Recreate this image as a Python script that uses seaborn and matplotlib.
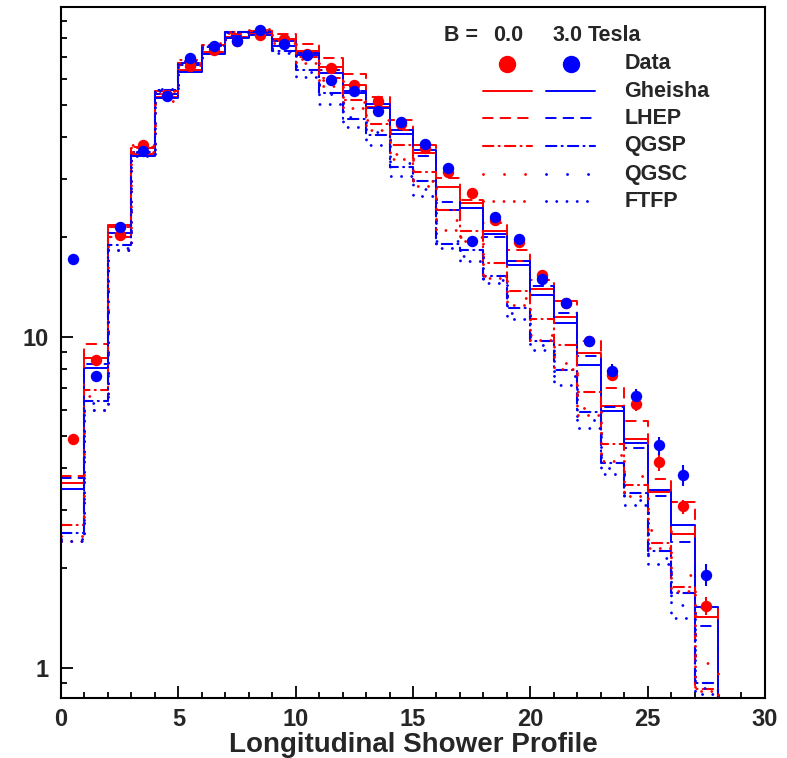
import numpy as np
import pandas as pd
import matplotlib
matplotlib.use('Agg')
import matplotlib.pyplot as plt
import matplotlib.ticker as mticker
import seaborn as sns

# bins of the shower profile (layers 0..30)
edges = np.arange(0, 31, 1)
centers = edges[:-1] + 0.5

# data, B = 0.0 T and B = 3.0 T
data_b0 = [4.89, 8.5, 20.3, 38.0, 53.5, 65.6, 73.6, 78.2, 81.7, 79.4, 71.5, 64.9, 57.7, 51.3, 44.0,
           37.2, 31.5, 27.1, 22.5, 19.3, 15.4, 12.6, 9.73, 7.67, 6.27, 4.19, 3.07, 1.54, np.nan, np.nan]
data_b3 = [17.1, 7.59, 21.5, 36.3, 53.2, 69.5, 75.3, 78.2, 84.1, 76.6, 71.1, 59.7, 55.1, 48.0, 44.6,
           38.3, 32.2, 19.5, 23.0, 19.7, 14.9, 12.6, 9.73, 7.89, 6.60, 4.69, 3.81, 1.91, np.nan, np.nan]
err_b0 = [0.1, 0.15, 0.3, 0.5, 0.6, 0.7, 0.8, 0.8, 0.8, 0.8, 0.8, 0.7, 0.7, 0.6, 0.6,
          0.5, 0.5, 0.4, 0.4, 0.4, 0.3, 0.3, 0.3, 0.3, 0.3, 0.25, 0.15, 0.1, 0, 0]
err_b3 = [0.3, 0.15, 0.3, 0.5, 0.6, 0.7, 0.8, 0.8, 0.8, 0.8, 0.8, 0.7, 0.7, 0.6, 0.6,
          0.5, 0.5, 0.4, 0.4, 0.4, 0.3, 0.3, 0.3, 0.35, 0.35, 0.3, 0.27, 0.14, 0, 0]

# simulations
gheisha_b0 = [3.61, 8.6, 21.8, 35.7, 52.8, 64, 72.5, 80.5, 82.5, 79.5, 73, 65, 57.5, 49.5, 42,
              35.9, 28.3, 25.3, 20.9, 16.9, 13.9, 11.5, 8.93, 6.16, 4.9, 3.39, 2.54, 1.42, 0, 0]
gheisha_b3 = [3.47, 8.04, 20.6, 35.1, 52.4, 63, 71.3, 80, 81.2, 75.6, 70.7, 62.6, 54.3, 49.0, 40.9,
              36.5, 24.1, 24.4, 20.4, 16.4, 13.4, 11.0, 8.23, 5.94, 4.78, 3.43, 2.70, 1.52, 0, 0]
lhep_b0 = [3.8, 9.5, 21.5, 37.5, 54, 67, 75, 82, 84, 82, 76.6, 69.5, 62, 53, 45,
           38, 30.2, 25.8, 22.0, 18.3, 14.8, 12.8, 9.72, 7.0, 5.57, 3.72, 3.16, 1.51, 0, 0]
lhep_b3 = [3.75, 8.27, 20.0, 36, 54, 66, 75, 81, 83, 78, 72, 64, 55, 50.5, 42,
           35, 25.5, 24.5, 20.0, 16.9, 14.2, 11.8, 8.72, 6.13, 4.6, 3.3, 2.40, 1.34, 0, 0]
qgsp_b0 = [2.70, 6.92, 20.0, 37, 55, 68.5, 76, 83, 84, 78, 70, 60.5, 52, 44, 38,
           31.5, 24.2, 20.8, 16.7, 13.7, 11.3, 9.4, 6.8, 4.75, 3.57, 2.38, 1.75, 0.86, 0, 0]
qgsp_b3 = [2.56, 6.38, 18.9, 36, 55.7, 67, 75.5, 83, 83, 73, 64, 54.5, 45.5, 40.5, 32.5,
           29.5, 19.0, 18.3, 15.2, 12.2, 9.7, 7.95, 5.9, 4.15, 3.37, 2.25, 1.68, 0.90, 0, 0]
qgsc_b0 = [2.5, 6.6, 20.5, 38, 51.4, 66, 77, 83, 85, 78.5, 69, 59.5, 51, 45, 35.5,
           29.5, 22.5, 20.0, 15.2, 13.1, 10.1, 8.35, 6.1, 4.4, 3.8, 2.6, 1.9, 1.03, 0, 0]
qgsc_b3 = [2.45, 6.3, 18.5, 36, 55, 67, 76, 83, 83.5, 73, 63, 54, 46, 41.5, 33.5,
           28, 19.5, 17.5, 14.8, 11.8, 9.4, 7.6, 5.6, 4.0, 3.2, 2.15, 1.55, 0.87, 0, 0]
ftfp_b0 = [2.42, 6.0, 18.3, 36, 55, 68, 76, 82.5, 84.5, 77, 67, 57, 49, 42, 34.5,
           28.5, 21, 19.5, 15.0, 12.5, 9.8, 8.0, 5.8, 4.2, 3.3, 2.3, 1.7, 0.85, 0, 0]
ftfp_b3 = [2.42, 6.0, 18.3, 35, 56, 68, 76, 83, 82, 72, 61, 50.5, 43, 37.8, 30.5,
           26.5, 18.5, 16.9, 14.5, 11.3, 9.1, 7.16, 5.3, 3.85, 3.11, 2.06, 1.41, 0.83, 0, 0]

model_names = ['Gheisha', 'LHEP', 'QGSP', 'QGSC', 'FTFP']
model_b0 = [gheisha_b0, lhep_b0, qgsp_b0, qgsc_b0, ftfp_b0]
model_b3 = [gheisha_b3, lhep_b3, qgsp_b3, qgsc_b3, ftfp_b3]
# (linestyle, linewidth) per model
model_styles = [('-', 1.4), ((0, (5, 4)), 1.4), ((0, (5, 2.5, 0.5, 2.5)), 1.5),
                ((0, (0.01, 7.2)), 2.1), ((0, (0.01, 3.5)), 2.1)]

sns.set_style('ticks')
plt.rcParams['font.family'] = ['Liberation Sans', 'DejaVu Sans']
plt.rcParams['font.weight'] = 'bold'

fig = plt.figure(figsize=(7.87, 7.58), dpi=100)
ax = fig.add_axes([0.0775, 0.0792, 0.8945, 0.9116])

for v0, v3, (ls, lw) in zip(model_b0, model_b3, model_styles):
    for vals, col in ((v0, 'red'), (v3, 'blue')):
        df = pd.DataFrame({'layer': centers, 'w': vals})
        sns.histplot(data=df, x='layer', weights='w', bins=list(edges), element='step',
                     fill=False, color=col, linestyle=ls, linewidth=lw,
                     dash_capstyle='round', ax=ax)

ax.errorbar(centers, data_b0, yerr=err_b0, fmt='o', color='red', ms=7.2, elinewidth=1.5, capsize=0)
ax.errorbar(centers, data_b3, yerr=err_b3, fmt='o', color='blue', ms=7.2, elinewidth=1.5, capsize=0)

ax.set_yscale('log')
ax.set_xlim(0, 30)
ax.set_ylim(0.81, 99)
ax.set_ylabel('')
ax.set_xlabel('Longitudinal Shower Profile', fontsize=20, fontweight='bold', labelpad=1)

ax.xaxis.set_major_locator(mticker.MultipleLocator(5))
ax.xaxis.set_minor_locator(mticker.MultipleLocator(1))
ax.yaxis.set_major_locator(mticker.LogLocator(base=10))
ax.yaxis.set_minor_locator(mticker.LogLocator(base=10, subs=np.arange(2, 10)))
ax.yaxis.set_major_formatter(mticker.FuncFormatter(lambda v, p: f'{v:g}'))
ax.yaxis.set_minor_formatter(mticker.NullFormatter())
ax.tick_params(which='both', direction='in', top=False, right=False, width=1.3, color='black')
ax.tick_params(which='major', length=8.5, labelsize=17, pad=7)
ax.tick_params(axis='y', which='major', pad=9)
ax.tick_params(which='minor', length=4.3)
for sp in ax.spines.values():
    sp.set_linewidth(1.5)
    sp.set_color('black')

# legend drawn by hand in axes coordinates
tr = ax.transAxes
fs = 15.5
ax.text(0.568, 0.958, 'B =', transform=tr, fontsize=fs, ha='center', va='center')
ax.text(0.635, 0.958, '0.0', transform=tr, fontsize=fs, ha='center', va='center')
ax.text(0.720, 0.958, '3.0', transform=tr, fontsize=fs, ha='center', va='center')
ax.text(0.748, 0.958, 'Tesla', transform=tr, fontsize=fs, ha='left', va='center')
row_y = [0.9175, 0.878, 0.839, 0.799, 0.758, 0.719]
ax.plot([0.634], [row_y[0]], 'o', color='red', ms=11.5, transform=tr)
ax.plot([0.724], [row_y[0]], 'o', color='blue', ms=11.5, transform=tr)
ax.text(0.800, row_y[0], 'Data', transform=tr, fontsize=fs, ha='left', va='center')
for yy, name, (ls, lw) in zip(row_y[1:], model_names, model_styles):
    ax.plot([0.599, 0.669], [yy, yy], color='red', linestyle=ls, linewidth=lw,
            dash_capstyle='round', transform=tr)
    ax.plot([0.689, 0.759], [yy, yy], color='blue', linestyle=ls, linewidth=lw,
            dash_capstyle='round', transform=tr)
    ax.text(0.800, yy, name, transform=tr, fontsize=fs, ha='left', va='center')

fig.savefig('out.png', dpi=100)
